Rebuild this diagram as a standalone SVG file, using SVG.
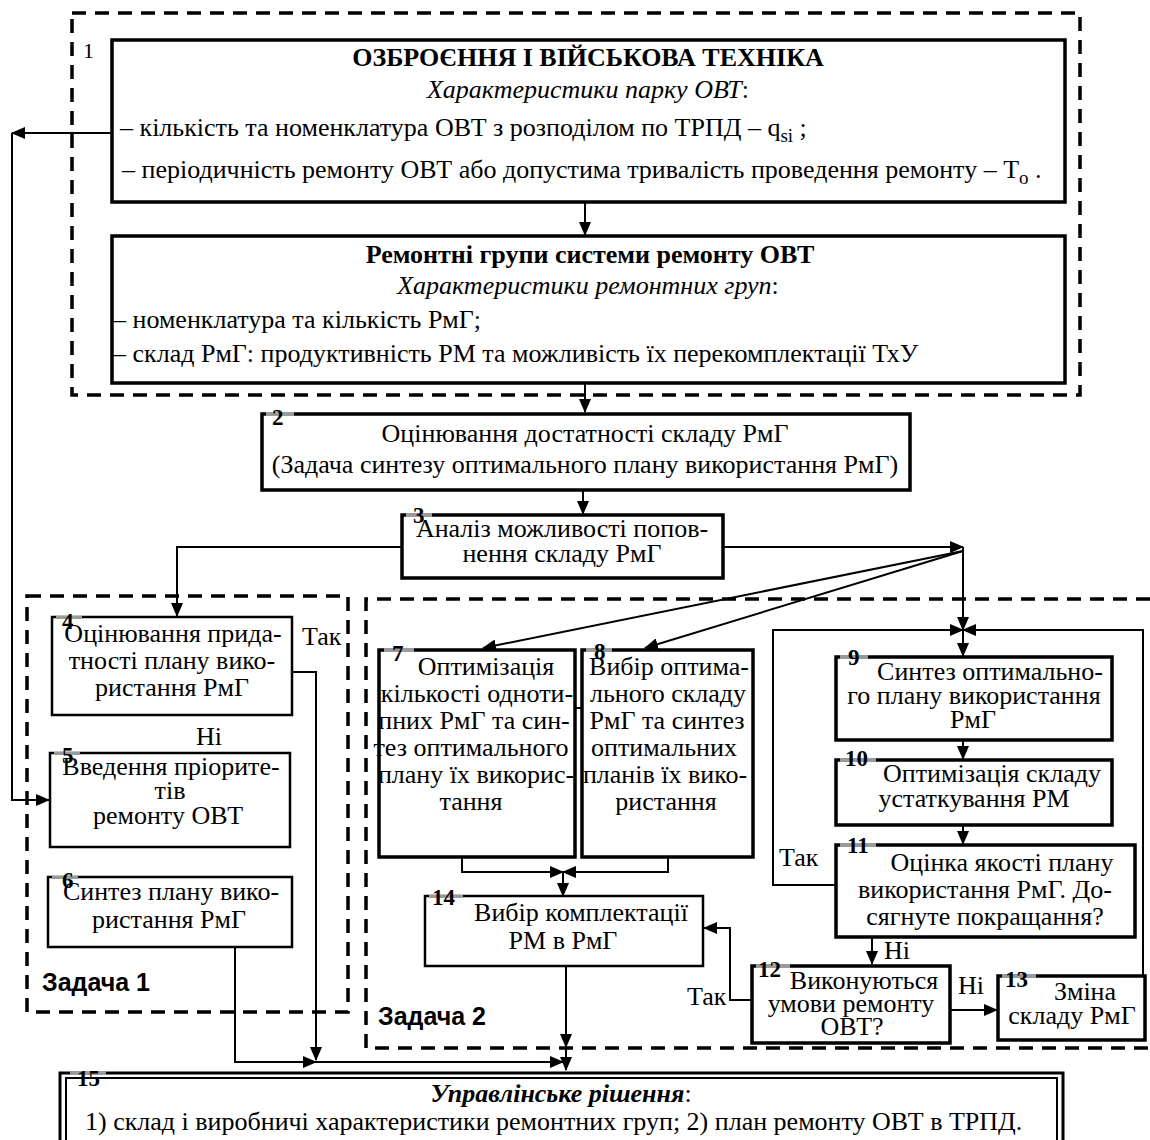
<svg xmlns="http://www.w3.org/2000/svg" width="1150" height="1140" viewBox="0 0 1150 1140">
<defs>
<marker id="ah" markerUnits="userSpaceOnUse" markerWidth="14" markerHeight="12" refX="13" refY="6" orient="auto">
<path d="M0,0 L14,6 L0,12 z" fill="#000"/>
</marker>
<style>
text{font-family:"Liberation Serif","Times New Roman",serif;font-size:26px;fill:#000}
.c{text-anchor:middle}
.b{font-weight:bold}
.i{font-style:italic}
.n{font-weight:bold;font-size:23px}
.s{font-family:"Liberation Sans",Arial,sans-serif;font-weight:bold;font-size:25px}
.box3{fill:#fff;stroke:#000;stroke-width:3.5}
.box2{fill:#fff;stroke:#000;stroke-width:2.5}
.dash{fill:none;stroke:#000;stroke-width:3.5;stroke-dasharray:14 9}
.ln{fill:none;stroke:#000;stroke-width:2}
.ar{fill:none;stroke:#000;stroke-width:2;marker-end:url(#ah)}
.g{fill:#9a9a9a}
</style>
</defs>
<rect width="1150" height="1140" fill="#fff"/>

<g id="frames">
<rect class="dash" x="72" y="13" width="1008" height="382"/>
<text x="83" y="58" style="font-size:22px">1</text>
<rect class="dash" x="27" y="596" width="321" height="416"/>
<text class="s" x="42" y="991">Задача 1</text>
<path class="dash" d="M1150,599 H366 V1048 H1150"/>
<text class="s" x="378" y="1025">Задача 2</text>
</g>

<g id="connectors">
<path class="ar" d="M585,203 V235"/>
<path class="ar" d="M585,384 V412"/>
<path class="ar" d="M583,491 V514"/>
<path class="ar" d="M402,547 H177 V616"/>
<path class="ar" d="M723,547 H963"/>
<path class="ar" d="M963,551 L483,648"/>
<path class="ar" d="M963,551 L645,648"/>
<path class="ar" d="M963,547 V630"/>
<path class="ar" d="M963,630 V656"/>
<path class="ar" d="M836,885 H773 V630 H963"/>
<path class="ar" d="M1143,975 V630 H963"/>
<path class="ar" d="M963,741 V759"/>
<path class="ar" d="M963,826 V844"/>
<path class="ar" d="M872,938 V964"/>
<path class="ar" d="M951,1010 H997"/>
<path class="ar" d="M752,1000 H730 V928 H704"/>
<path class="ar" d="M462,858 V872 H563"/>
<path class="ar" d="M668,858 V872 H563"/>
<path class="ar" d="M563,872 V896"/>
<path class="ar" d="M566,967 V1047"/>
<path class="ar" d="M566,1047 V1070"/>
<path class="ar" d="M235,948 V1062 H316"/>
<path class="ar" d="M316,1062 H563"/>
<path class="ar" d="M293,672 H316 V1060"/>
<path class="ar" d="M112,133 H12"/>
<path class="ar" d="M12,133 V800 H49"/>
<path class="ln" d="M575,708 H582"/>
<text x="302" y="645">Так</text>
<text x="196" y="745">Ні</text>
<text x="779" y="866">Так</text>
<text x="884" y="959">Ні</text>
<text x="958" y="994">Ні</text>
<text x="687" y="1005">Так</text>
</g>

<g id="n1a">
<rect class="box3" x="112" y="40" width="953" height="162"/>
<text class="c b" x="588" y="66">ОЗБРОЄННЯ І ВІЙСЬКОВА ТЕХНІКА</text>
<text class="c" x="588" y="98"><tspan class="i">Характеристики парку ОВТ</tspan>:</text>
<text x="120" y="136">– кількість та номенклатура ОВТ з розподілом по ТРПД –  q<tspan dy="6" font-size="19">si</tspan><tspan dy="-6"> ;</tspan></text>
<text x="122" y="178">– періодичність ремонту ОВТ або допустима тривалість проведення ремонту –  T<tspan dy="6" font-size="19">o</tspan><tspan dy="-6"> .</tspan></text>
</g>

<g id="n1b">
<rect class="box3" x="112" y="236" width="953" height="147"/>
<text class="c b" x="590" y="263">Ремонтні групи системи ремонту ОВТ</text>
<text class="c" x="588" y="294"><tspan class="i">Характеристики ремонтних груп</tspan>:</text>
<text x="113" y="328">– номенклатура та кількість РмГ;</text>
<text x="113" y="362">– склад РмГ: продуктивність РМ та можливість їх перекомплектації ТхУ</text>
</g>

<g id="n2">
<rect class="box3" x="262" y="414" width="648" height="76"/>
<rect class="g" x="266" y="412" width="28" height="4"/>
<text class="n" x="272" y="425">2</text>
<text class="c" x="585" y="442">Оцінювання достатності складу РмГ</text>
<text class="c" x="585" y="473">(Задача синтезу оптимального плану використання РмГ)</text>
</g>

<g id="n3">
<rect class="box3" x="402" y="515" width="321" height="63"/>
<rect class="g" x="406" y="513" width="26" height="4"/>
<text class="n" x="413" y="523">3</text>
<text class="c" x="562" y="537">Аналіз можливості попов-</text>
<text class="c" x="562" y="562">нення складу РмГ</text>
</g>

<g id="n4">
<rect class="box2" x="52" y="617" width="240" height="98"/>
<rect class="g" x="56" y="616" width="26" height="3"/>
<text class="n" x="62" y="629">4</text>
<text class="c" x="173" y="642">Оцінювання  прида-</text>
<text class="c" x="172" y="669">тності плану вико-</text>
<text class="c" x="172" y="696">ристання РмГ</text>
</g>

<g id="n5">
<rect class="box2" x="50" y="753" width="240" height="94"/>
<rect class="g" x="54" y="752" width="26" height="3"/>
<text class="n" x="62" y="763">5</text>
<text class="c" x="171" y="775">Введення пріорите-</text>
<text class="c" x="170" y="799">тів</text>
<text class="c" x="168" y="824">ремонту ОВТ</text>
</g>

<g id="n6">
<rect class="box2" x="48" y="877" width="244" height="70"/>
<rect class="g" x="52" y="876" width="26" height="3"/>
<text class="n" x="62" y="888">6</text>
<text class="c" x="171" y="900">Синтез плану вико-</text>
<text class="c" x="169" y="928">ристання РмГ</text>
</g>

<g id="n7">
<rect class="box3" x="379" y="650" width="196" height="207"/>
<rect class="g" x="384" y="648" width="30" height="4"/>
<text class="n" x="392" y="661">7</text>
<text class="c" x="486" y="675">Оптимізація</text>
<text class="c" x="477" y="702">кількості одноти-</text>
<text class="c" x="474" y="729">пних РмГ та син-</text>
<text class="c" x="471" y="756">тез оптимального</text>
<text class="c" x="476" y="783">плану їх викорис-</text>
<text class="c" x="471" y="810">тання</text>
</g>

<g id="n8">
<rect class="box3" x="582" y="650" width="171" height="207"/>
<rect class="g" x="586" y="648" width="26" height="4"/>
<text class="n" x="594" y="659">8</text>
<text class="c" x="669" y="675">Вибір оптима-</text>
<text class="c" x="668" y="702">льного складу</text>
<text class="c" x="667" y="729">РмГ та синтез</text>
<text class="c" x="664" y="756">оптимальних</text>
<text class="c" x="665" y="783">планів їх вико-</text>
<text class="c" x="666" y="810">ристання</text>
</g>

<g id="n9">
<rect class="box3" x="836" y="657" width="276" height="83"/>
<rect class="g" x="840" y="655" width="28" height="4"/>
<text class="n" x="848" y="665">9</text>
<text class="c" x="990" y="680">Синтез оптимально-</text>
<text class="c" x="974" y="704">го плану використання</text>
<text class="c" x="973" y="728">РмГ</text>
</g>

<g id="n10">
<rect class="box3" x="836" y="760" width="276" height="65"/>
<rect class="g" x="840" y="758" width="36" height="4"/>
<text class="n" x="845" y="766">10</text>
<text class="c" x="992" y="782">Оптимізація складу</text>
<text class="c" x="974" y="807">устаткування РМ</text>
</g>

<g id="n11">
<rect class="box3" x="836" y="845" width="299" height="92"/>
<rect class="g" x="840" y="843" width="36" height="4"/>
<text class="n" x="847" y="853">11</text>
<text class="c" x="1002" y="871">Оцінка якості плану</text>
<text class="c" x="985" y="898">використання РмГ. До-</text>
<text class="c" x="985" y="925">сягнуте покращання?</text>
</g>

<g id="n12">
<rect class="box3" x="752" y="966" width="198" height="77"/>
<rect class="g" x="756" y="964" width="34" height="4"/>
<text class="n" x="758" y="977">12</text>
<text class="c" x="864" y="989">Виконуються</text>
<text class="c" x="851" y="1012">умови ремонту</text>
<text class="c" x="852" y="1035">ОВТ?</text>
</g>

<g id="n13">
<rect class="box3" x="998" y="976" width="147" height="64"/>
<rect class="g" x="1002" y="974" width="34" height="4"/>
<text class="n" x="1005" y="987">13</text>
<text class="c" x="1085" y="1000">Зміна</text>
<text class="c" x="1072" y="1024">складу РмГ</text>
</g>

<g id="n14">
<rect class="box2" x="425" y="896" width="278" height="70"/>
<rect class="g" x="429" y="895" width="34" height="3"/>
<text class="n" x="432" y="905">14</text>
<text class="c" x="581" y="921">Вибір комплектації</text>
<text class="c" x="563" y="949">РМ в РмГ</text>
</g>

<g id="n15">
<rect fill="#fff" stroke="#000" stroke-width="3" x="60" y="1073" width="1003" height="75"/>
<rect fill="none" stroke="#000" stroke-width="2" x="66" y="1078" width="991" height="70"/>
<rect class="g" x="70" y="1071" width="36" height="4"/>
<text class="n" x="77" y="1086">15</text>
<text class="c" x="561" y="1102"><tspan class="b i">Управлінське рішення</tspan>:</text>
<text x="85" y="1130">1) склад і виробничі характеристики ремонтних груп;  2) план ремонту ОВТ в ТРПД.</text>
</g>
</svg>
